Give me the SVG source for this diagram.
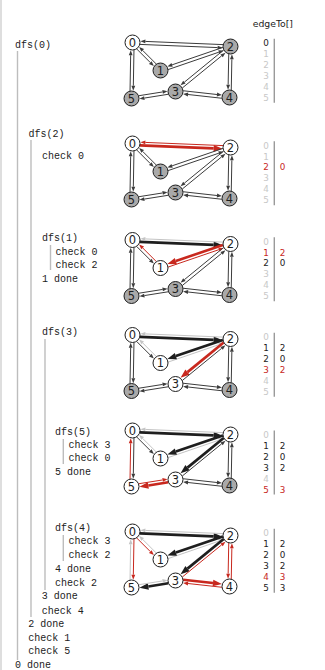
<svg xmlns="http://www.w3.org/2000/svg" width="325" height="670" viewBox="0 0 325 670">
<style>
.bg{fill:#ffffff}
.D{stroke:#3c3c3c;stroke-width:1;marker-end:url(#aD);fill:none}
.L{stroke:#c4c4c4;stroke-width:1;marker-end:url(#aL);fill:none}
.R{stroke:#c8281e;stroke-width:1;marker-end:url(#aR);fill:none}
.RT{stroke:#c8281e;stroke-width:2.6;marker-end:url(#aRT);fill:none}
.BT{stroke:#1e1e1e;stroke-width:2.6;marker-end:url(#aBT);fill:none}
.nw circle{fill:#ffffff;stroke:#1e1e1e;stroke-width:1}
.ng circle{fill:#a9a9a9;stroke:#1e1e1e;stroke-width:1}
.nl{font-family:"DejaVu Sans",sans-serif;font-size:11.5px;fill:#1e1e1e;text-anchor:middle}
.tr{font-family:"Liberation Mono",monospace;font-size:10px;fill:#222}
.bar{stroke:#bdbdbd;stroke-width:1.4}
.tb{stroke:#9a9a9a;stroke-width:1.4}
.td{font-family:"DejaVu Sans",sans-serif;font-size:8.8px;text-anchor:middle}
.K{fill:#222}.G{fill:#c8c8c8}.X{fill:#c8281e}
.hd{font-family:"DejaVu Sans",sans-serif;font-size:9.3px;fill:#222}
</style>
<defs>
<marker id="aD" markerUnits="userSpaceOnUse" orient="auto" refX="0" refY="0" markerWidth="10" markerHeight="10" viewBox="-1 -5 10 10" overflow="visible"><path d="M0,-1.9L5,0L0,1.9z" fill="#3c3c3c"/></marker>
<marker id="aL" markerUnits="userSpaceOnUse" orient="auto" refX="0" refY="0" markerWidth="10" markerHeight="10" viewBox="-1 -5 10 10" overflow="visible"><path d="M0,-1.9L5,0L0,1.9z" fill="#c4c4c4"/></marker>
<marker id="aR" markerUnits="userSpaceOnUse" orient="auto" refX="0" refY="0" markerWidth="10" markerHeight="10" viewBox="-1 -5 10 10" overflow="visible"><path d="M0,-1.9L5,0L0,1.9z" fill="#c8281e"/></marker>
<marker id="aRT" markerUnits="userSpaceOnUse" orient="auto" refX="0" refY="0" markerWidth="12" markerHeight="12" viewBox="-1 -6 12 12" overflow="visible"><path d="M0,-3.3L9,0L0,3.3z" fill="#c8281e"/></marker>
<marker id="aBT" markerUnits="userSpaceOnUse" orient="auto" refX="0" refY="0" markerWidth="12" markerHeight="12" viewBox="-1 -6 12 12" overflow="visible"><path d="M0,-3.3L9,0L0,3.3z" fill="#1e1e1e"/></marker>
</defs>
<rect class="bg" x="0" y="0" width="325" height="670"/>
<rect x="0" y="0" width="2" height="670" fill="#dedede"/>

<g id="trace">
<line class="bar" x1="17.5" y1="51" x2="17.5" y2="660"/>
<line class="bar" x1="31" y1="140" x2="31" y2="617"/>
<line class="bar" x1="50.5" y1="245" x2="50.5" y2="270"/>
<line class="bar" x1="45" y1="339" x2="45" y2="590"/>
<line class="bar" x1="63.3" y1="439" x2="63.3" y2="464"/>
<line class="bar" x1="63.3" y1="535" x2="63.3" y2="561"/>
<text class="tr" x="15" y="47.5">dfs(0)</text>
<text class="tr" x="28.5" y="136.5">dfs(2)</text>
<text class="tr" x="42" y="158.5">check 0</text>
<text class="tr" x="42" y="240.5">dfs(1)</text>
<text class="tr" x="55.5" y="254.5">check 0</text>
<text class="tr" x="55.5" y="268">check 2</text>
<text class="tr" x="42" y="281.5">1 done</text>
<text class="tr" x="42" y="334.5">dfs(3)</text>
<text class="tr" x="55" y="435">dfs(5)</text>
<text class="tr" x="68.5" y="447.5">check 3</text>
<text class="tr" x="68.5" y="461">check 0</text>
<text class="tr" x="55" y="475">5 done</text>
<text class="tr" x="55" y="531">dfs(4)</text>
<text class="tr" x="68.5" y="544">check 3</text>
<text class="tr" x="68.5" y="558">check 2</text>
<text class="tr" x="55" y="572">4 done</text>
<text class="tr" x="55" y="586">check 2</text>
<text class="tr" x="41.7" y="599">3 done</text>
<text class="tr" x="41.7" y="613.5">check 4</text>
<text class="tr" x="28.3" y="627">2 done</text>
<text class="tr" x="28.3" y="641">check 1</text>
<text class="tr" x="28.3" y="654">check 5</text>
<text class="tr" x="15" y="668">0 done</text>
</g>

<text class="hd" x="252.7" y="27">edgeTo[]</text>

<g id="connectors">
<g transform="translate(132.5,42.5)">
<line class="D" x1="7.43" y1="1.90" x2="85.14" y2="5.08"/>
<line class="D" x1="90.57" y1="2.10" x2="12.86" y2="-1.08"/>
<line class="D" x1="4.17" y1="6.43" x2="17.81" y2="20.07"/>
<line class="D" x1="23.83" y1="21.57" x2="10.19" y2="7.93"/>
<line class="D" x1="1.47" y1="7.53" x2="0.83" y2="43.23"/>
<line class="D" x1="-2.47" y1="48.47" x2="-1.83" y2="12.77"/>
<line class="D" x1="35.61" y1="27.08" x2="86.41" y2="9.66"/>
<line class="D" x1="90.39" y1="4.92" x2="39.59" y2="22.34"/>
<line class="D" x1="91.18" y1="7.51" x2="51.89" y2="39.65"/>
<line class="D" x1="49.82" y1="45.49" x2="89.11" y2="13.35"/>
<line class="D" x1="96.25" y1="11.47" x2="95.65" y2="42.17"/>
<line class="D" x1="98.75" y1="47.53" x2="99.35" y2="16.83"/>
<line class="D" x1="50.63" y1="48.24" x2="84.46" y2="52.00"/>
<line class="D" x1="89.37" y1="55.76" x2="55.55" y2="52.00"/>
<line class="D" x1="35.84" y1="51.76" x2="11.89" y2="55.57"/>
<line class="D" x1="6.16" y1="53.24" x2="30.11" y2="49.44"/>
</g>
<g transform="translate(132.5,143.5)">
<line class="RT" x1="7.43" y1="1.90" x2="81.15" y2="4.91"/>
<line class="R" x1="90.57" y1="2.10" x2="12.86" y2="-1.08"/>
<line class="D" x1="4.17" y1="6.43" x2="17.81" y2="20.07"/>
<line class="D" x1="23.83" y1="21.57" x2="10.19" y2="7.93"/>
<line class="D" x1="1.47" y1="7.53" x2="0.83" y2="43.23"/>
<line class="D" x1="-2.47" y1="48.47" x2="-1.83" y2="12.77"/>
<line class="D" x1="35.61" y1="27.08" x2="86.41" y2="9.66"/>
<line class="D" x1="90.39" y1="4.92" x2="39.59" y2="22.34"/>
<line class="D" x1="91.18" y1="7.51" x2="51.89" y2="39.65"/>
<line class="D" x1="49.82" y1="45.49" x2="89.11" y2="13.35"/>
<line class="D" x1="96.25" y1="11.47" x2="95.65" y2="42.17"/>
<line class="D" x1="98.75" y1="47.53" x2="99.35" y2="16.83"/>
<line class="D" x1="50.63" y1="48.24" x2="84.46" y2="52.00"/>
<line class="D" x1="89.37" y1="55.76" x2="55.55" y2="52.00"/>
<line class="D" x1="35.84" y1="51.76" x2="11.89" y2="55.57"/>
<line class="D" x1="6.16" y1="53.24" x2="30.11" y2="49.44"/>
</g>
<g transform="translate(132.5,240)">
<line class="BT" x1="7.43" y1="1.90" x2="81.15" y2="4.91"/>
<line class="L" x1="90.57" y1="2.10" x2="12.86" y2="-1.08"/>
<line class="D" x1="4.17" y1="6.43" x2="17.81" y2="20.07"/>
<line class="R" x1="23.83" y1="21.57" x2="10.19" y2="7.93"/>
<line class="D" x1="1.47" y1="7.53" x2="0.83" y2="43.23"/>
<line class="D" x1="-2.47" y1="48.47" x2="-1.83" y2="12.77"/>
<line class="R" x1="35.61" y1="27.08" x2="86.41" y2="9.66"/>
<line class="RT" x1="90.39" y1="4.92" x2="43.37" y2="21.04"/>
<line class="D" x1="91.18" y1="7.51" x2="51.89" y2="39.65"/>
<line class="D" x1="49.82" y1="45.49" x2="89.11" y2="13.35"/>
<line class="D" x1="96.25" y1="11.47" x2="95.65" y2="42.17"/>
<line class="D" x1="98.75" y1="47.53" x2="99.35" y2="16.83"/>
<line class="D" x1="50.63" y1="48.24" x2="84.46" y2="52.00"/>
<line class="D" x1="89.37" y1="55.76" x2="55.55" y2="52.00"/>
<line class="D" x1="35.84" y1="51.76" x2="11.89" y2="55.57"/>
<line class="D" x1="6.16" y1="53.24" x2="30.11" y2="49.44"/>
</g>
<g transform="translate(132.5,335)">
<line class="BT" x1="7.43" y1="1.90" x2="81.15" y2="4.91"/>
<line class="L" x1="90.57" y1="2.10" x2="12.86" y2="-1.08"/>
<line class="D" x1="4.17" y1="6.43" x2="17.81" y2="20.07"/>
<line class="L" x1="23.83" y1="21.57" x2="10.19" y2="7.93"/>
<line class="D" x1="1.47" y1="7.53" x2="0.83" y2="43.23"/>
<line class="D" x1="-2.47" y1="48.47" x2="-1.83" y2="12.77"/>
<line class="L" x1="35.61" y1="27.08" x2="86.41" y2="9.66"/>
<line class="BT" x1="90.39" y1="4.92" x2="43.37" y2="21.04"/>
<line class="RT" x1="91.18" y1="7.51" x2="54.99" y2="37.12"/>
<line class="D" x1="49.82" y1="45.49" x2="89.11" y2="13.35"/>
<line class="D" x1="96.25" y1="11.47" x2="95.65" y2="42.17"/>
<line class="D" x1="98.75" y1="47.53" x2="99.35" y2="16.83"/>
<line class="D" x1="50.63" y1="48.24" x2="84.46" y2="52.00"/>
<line class="D" x1="89.37" y1="55.76" x2="55.55" y2="52.00"/>
<line class="D" x1="35.84" y1="51.76" x2="11.89" y2="55.57"/>
<line class="D" x1="6.16" y1="53.24" x2="30.11" y2="49.44"/>
</g>
<g transform="translate(132.5,430.5)">
<line class="BT" x1="7.43" y1="1.90" x2="81.15" y2="4.91"/>
<line class="L" x1="90.57" y1="2.10" x2="12.86" y2="-1.08"/>
<line class="D" x1="4.17" y1="6.43" x2="17.81" y2="20.07"/>
<line class="L" x1="23.83" y1="21.57" x2="10.19" y2="7.93"/>
<line class="D" x1="1.47" y1="7.53" x2="0.83" y2="43.23"/>
<line class="R" x1="-2.47" y1="48.47" x2="-1.83" y2="12.77"/>
<line class="L" x1="35.61" y1="27.08" x2="86.41" y2="9.66"/>
<line class="BT" x1="90.39" y1="4.92" x2="43.37" y2="21.04"/>
<line class="BT" x1="91.18" y1="7.51" x2="54.99" y2="37.12"/>
<line class="D" x1="49.82" y1="45.49" x2="89.11" y2="13.35"/>
<line class="D" x1="96.25" y1="11.47" x2="95.65" y2="42.17"/>
<line class="D" x1="98.75" y1="47.53" x2="99.35" y2="16.83"/>
<line class="D" x1="50.63" y1="48.24" x2="84.46" y2="52.00"/>
<line class="D" x1="89.37" y1="55.76" x2="55.55" y2="52.00"/>
<line class="RT" x1="35.84" y1="51.76" x2="15.84" y2="54.94"/>
<line class="R" x1="6.16" y1="53.24" x2="30.11" y2="49.44"/>
</g>
<g transform="translate(132.5,531.5)">
<line class="BT" x1="7.43" y1="1.90" x2="81.15" y2="4.91"/>
<line class="L" x1="90.57" y1="2.10" x2="12.86" y2="-1.08"/>
<line class="R" x1="4.17" y1="6.43" x2="17.81" y2="20.07"/>
<line class="L" x1="23.83" y1="21.57" x2="10.19" y2="7.93"/>
<line class="R" x1="1.47" y1="7.53" x2="0.83" y2="43.23"/>
<line class="L" x1="-2.47" y1="48.47" x2="-1.83" y2="12.77"/>
<line class="L" x1="35.61" y1="27.08" x2="86.41" y2="9.66"/>
<line class="BT" x1="90.39" y1="4.92" x2="43.37" y2="21.04"/>
<line class="BT" x1="91.18" y1="7.51" x2="54.99" y2="37.12"/>
<line class="R" x1="49.82" y1="45.49" x2="89.11" y2="13.35"/>
<line class="R" x1="96.25" y1="11.47" x2="95.65" y2="42.17"/>
<line class="R" x1="98.75" y1="47.53" x2="99.35" y2="16.83"/>
<line class="RT" x1="50.63" y1="48.24" x2="80.48" y2="51.56"/>
<line class="R" x1="89.37" y1="55.76" x2="55.55" y2="52.00"/>
<line class="BT" x1="35.84" y1="51.76" x2="15.84" y2="54.94"/>
<line class="L" x1="6.16" y1="53.24" x2="30.11" y2="49.44"/>
</g>
</g>

<g id="graph1" transform="translate(132.5,42.5)">
<g id="g1n0" class="nw"><circle cx="0" cy="0" r="7.5"/><text class="nl" x="0" y="4">0</text></g>
<g id="g1n1" class="ng"><circle cx="28" cy="28" r="7.5"/><text class="nl" x="28" y="32">1</text></g>
<g id="g1n2" class="ng"><circle cx="98" cy="4" r="7.5"/><text class="nl" x="98" y="8">2</text></g>
<g id="g1n3" class="ng"><circle cx="43" cy="49" r="7.5"/><text class="nl" x="43" y="53">3</text></g>
<g id="g1n4" class="ng"><circle cx="97" cy="55" r="7.5"/><text class="nl" x="97" y="59">4</text></g>
<g id="g1n5" class="ng"><circle cx="-1" cy="56" r="7.5"/><text class="nl" x="-1" y="60">5</text></g>
</g>
<g id="graph2" transform="translate(132.5,143.5)">
<g id="g2n0" class="nw"><circle cx="0" cy="0" r="7.5"/><text class="nl" x="0" y="4">0</text></g>
<g id="g2n1" class="ng"><circle cx="28" cy="28" r="7.5"/><text class="nl" x="28" y="32">1</text></g>
<g id="g2n2" class="nw"><circle cx="98" cy="4" r="7.5"/><text class="nl" x="98" y="8">2</text></g>
<g id="g2n3" class="ng"><circle cx="43" cy="49" r="7.5"/><text class="nl" x="43" y="53">3</text></g>
<g id="g2n4" class="ng"><circle cx="97" cy="55" r="7.5"/><text class="nl" x="97" y="59">4</text></g>
<g id="g2n5" class="ng"><circle cx="-1" cy="56" r="7.5"/><text class="nl" x="-1" y="60">5</text></g>
</g>
<g id="graph3" transform="translate(132.5,240)">
<g id="g3n0" class="nw"><circle cx="0" cy="0" r="7.5"/><text class="nl" x="0" y="4">0</text></g>
<g id="g3n1" class="nw"><circle cx="28" cy="28" r="7.5"/><text class="nl" x="28" y="32">1</text></g>
<g id="g3n2" class="nw"><circle cx="98" cy="4" r="7.5"/><text class="nl" x="98" y="8">2</text></g>
<g id="g3n3" class="ng"><circle cx="43" cy="49" r="7.5"/><text class="nl" x="43" y="53">3</text></g>
<g id="g3n4" class="ng"><circle cx="97" cy="55" r="7.5"/><text class="nl" x="97" y="59">4</text></g>
<g id="g3n5" class="ng"><circle cx="-1" cy="56" r="7.5"/><text class="nl" x="-1" y="60">5</text></g>
</g>
<g id="graph4" transform="translate(132.5,335)">
<g id="g4n0" class="nw"><circle cx="0" cy="0" r="7.5"/><text class="nl" x="0" y="4">0</text></g>
<g id="g4n1" class="nw"><circle cx="28" cy="28" r="7.5"/><text class="nl" x="28" y="32">1</text></g>
<g id="g4n2" class="nw"><circle cx="98" cy="4" r="7.5"/><text class="nl" x="98" y="8">2</text></g>
<g id="g4n3" class="nw"><circle cx="43" cy="49" r="7.5"/><text class="nl" x="43" y="53">3</text></g>
<g id="g4n4" class="ng"><circle cx="97" cy="55" r="7.5"/><text class="nl" x="97" y="59">4</text></g>
<g id="g4n5" class="ng"><circle cx="-1" cy="56" r="7.5"/><text class="nl" x="-1" y="60">5</text></g>
</g>
<g id="graph5" transform="translate(132.5,430.5)">
<g id="g5n0" class="nw"><circle cx="0" cy="0" r="7.5"/><text class="nl" x="0" y="4">0</text></g>
<g id="g5n1" class="nw"><circle cx="28" cy="28" r="7.5"/><text class="nl" x="28" y="32">1</text></g>
<g id="g5n2" class="nw"><circle cx="98" cy="4" r="7.5"/><text class="nl" x="98" y="8">2</text></g>
<g id="g5n3" class="nw"><circle cx="43" cy="49" r="7.5"/><text class="nl" x="43" y="53">3</text></g>
<g id="g5n4" class="ng"><circle cx="97" cy="55" r="7.5"/><text class="nl" x="97" y="59">4</text></g>
<g id="g5n5" class="nw"><circle cx="-1" cy="56" r="7.5"/><text class="nl" x="-1" y="60">5</text></g>
</g>
<g id="graph6" transform="translate(132.5,531.5)">
<g id="g6n0" class="nw"><circle cx="0" cy="0" r="7.5"/><text class="nl" x="0" y="4">0</text></g>
<g id="g6n1" class="nw"><circle cx="28" cy="28" r="7.5"/><text class="nl" x="28" y="32">1</text></g>
<g id="g6n2" class="nw"><circle cx="98" cy="4" r="7.5"/><text class="nl" x="98" y="8">2</text></g>
<g id="g6n3" class="nw"><circle cx="43" cy="49" r="7.5"/><text class="nl" x="43" y="53">3</text></g>
<g id="g6n4" class="nw"><circle cx="97" cy="55" r="7.5"/><text class="nl" x="97" y="59">4</text></g>
<g id="g6n5" class="nw"><circle cx="-1" cy="56" r="7.5"/><text class="nl" x="-1" y="60">5</text></g>
</g>

<g id="table1" transform="translate(0,43.3)">
<line class="tb" x1="274.3" y1="-4.5" x2="274.3" y2="59.5"/>
<text class="td K" x="266" y="3">0</text><text class="td G" x="266" y="13.9">1</text><text class="td G" x="266" y="24.8">2</text><text class="td G" x="266" y="35.7">3</text><text class="td G" x="266" y="46.6">4</text><text class="td G" x="266" y="57.5">5</text>
</g>
<g id="table2" transform="translate(0,145.7)">
<line class="tb" x1="274.3" y1="-4.5" x2="274.3" y2="59.5"/>
<text class="td G" x="266" y="3">0</text><text class="td G" x="266" y="13.9">1</text><text class="td X" x="266" y="24.8">2</text><text class="td G" x="266" y="35.7">3</text><text class="td G" x="266" y="46.6">4</text><text class="td G" x="266" y="57.5">5</text>
<text class="td X" x="282.5" y="24.8">0</text>
</g>
<g id="table3" transform="translate(0,241.7)">
<line class="tb" x1="274.3" y1="-4.5" x2="274.3" y2="59.5"/>
<text class="td G" x="266" y="3">0</text><text class="td X" x="266" y="13.9">1</text><text class="td K" x="266" y="24.8">2</text><text class="td G" x="266" y="35.7">3</text><text class="td G" x="266" y="46.6">4</text><text class="td G" x="266" y="57.5">5</text>
<text class="td X" x="282.5" y="13.9">2</text><text class="td K" x="282.5" y="24.8">0</text>
</g>
<g id="table4" transform="translate(0,337.3)">
<line class="tb" x1="274.3" y1="-4.5" x2="274.3" y2="59.5"/>
<text class="td G" x="266" y="3">0</text><text class="td K" x="266" y="13.9">1</text><text class="td K" x="266" y="24.8">2</text><text class="td X" x="266" y="35.7">3</text><text class="td G" x="266" y="46.6">4</text><text class="td G" x="266" y="57.5">5</text>
<text class="td K" x="282.5" y="13.9">2</text><text class="td K" x="282.5" y="24.8">0</text><text class="td X" x="282.5" y="35.7">2</text>
</g>
<g id="table5" transform="translate(0,435)">
<line class="tb" x1="274.3" y1="-4.5" x2="274.3" y2="59.5"/>
<text class="td G" x="266" y="3">0</text><text class="td K" x="266" y="13.9">1</text><text class="td K" x="266" y="24.8">2</text><text class="td K" x="266" y="35.7">3</text><text class="td G" x="266" y="46.6">4</text><text class="td X" x="266" y="57.5">5</text>
<text class="td K" x="282.5" y="13.9">2</text><text class="td K" x="282.5" y="24.8">0</text><text class="td K" x="282.5" y="35.7">2</text><text class="td X" x="282.5" y="57.5">3</text>
</g>
<g id="table6" transform="translate(0,533.3)">
<line class="tb" x1="274.3" y1="-4.5" x2="274.3" y2="59.5"/>
<text class="td G" x="266" y="3">0</text><text class="td K" x="266" y="13.9">1</text><text class="td K" x="266" y="24.8">2</text><text class="td K" x="266" y="35.7">3</text><text class="td X" x="266" y="46.6">4</text><text class="td K" x="266" y="57.5">5</text>
<text class="td K" x="282.5" y="13.9">2</text><text class="td K" x="282.5" y="24.8">0</text><text class="td K" x="282.5" y="35.7">2</text><text class="td X" x="282.5" y="46.6">3</text><text class="td K" x="282.5" y="57.5">3</text>
</g>
</svg>
